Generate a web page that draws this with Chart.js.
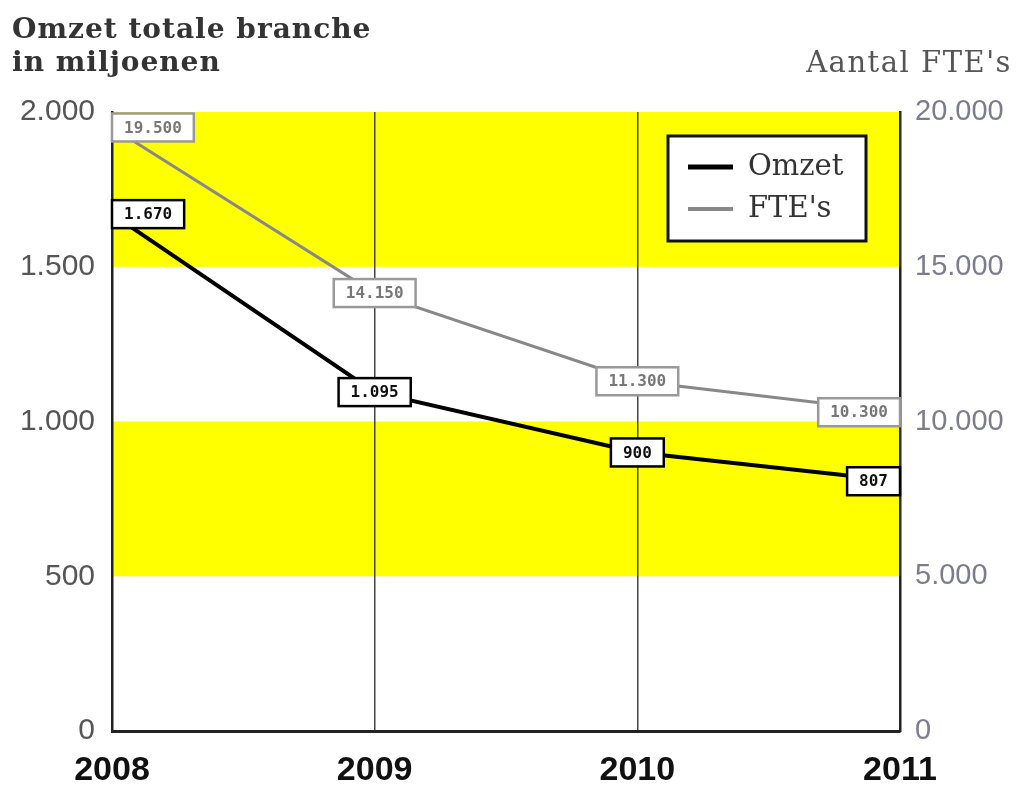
<html><head>
<script src="https://cdn.jsdelivr.net/npm/chart.js"></script>
<title>Omzet totale branche</title>
<style>
body { margin: 0; background: #fff; }
#wrap { width: 1018px; height: 785px; position: relative; }
</style>
</head>
<body>
<div id="wrap"><canvas id="chart" width="1018" height="785"></canvas></div>
<script>
const years = ['2008', '2009', '2010', '2011'];
const omzet = [1670, 1095, 900, 807];
const fte = [19500, 14150, 11300, 10300];
// yellow bands on the left axis (miljoenen)
const bands = [[1500, 2000], [500, 1000]];

function fmt(n) {
  return String(n).replace(/\B(?=(\d{3})+(?!\d))/g, '.');
}

const bandPlugin = {
  id: 'bands',
  beforeDraw(chart) {
    const {ctx, chartArea: a, scales: {y}} = chart;
    ctx.save();
    ctx.fillStyle = '#ffff00';
    bands.forEach(b => {
      const top = y.getPixelForValue(b[1]);
      const bot = y.getPixelForValue(b[0]);
      ctx.fillRect(a.left, top, a.right - a.left, bot - top);
    });
    ctx.restore();
  }
};

const labelPlugin = {
  id: 'boxLabels',
  afterDatasetsDraw(chart) {
    const ctx = chart.ctx;
    ctx.save();
    ctx.font = 'bold 16px "DejaVu Sans Mono"';
    ctx.textBaseline = 'middle';
    chart.data.datasets.forEach((ds, di) => {
      const meta = chart.getDatasetMeta(di);
      meta.data.forEach((pt, i) => {
        const txt = fmt(ds.data[i]);
        const w = ctx.measureText(txt).width + 24;
        const h = 28;
        let x = pt.x - w / 2;
        if (i === 0) x = pt.x;
        if (i === ds.data.length - 1) x = pt.x - w;
        const y = pt.y - h / 2;
        ctx.fillStyle = '#fff';
        ctx.fillRect(x, y, w, h);
        ctx.lineWidth = 2.5;
        ctx.strokeStyle = ds.boxColor;
        ctx.strokeRect(x, y, w, h);
        ctx.fillStyle = ds.textColor;
        ctx.textAlign = 'center';
        ctx.fillText(txt, x + w / 2, pt.y + 1);
      });
    });
    ctx.restore();
  }
};

const textPlugin = {
  id: 'texts',
  afterDraw(chart) {
    const ctx = chart.ctx;
    ctx.save();
    ctx.textBaseline = 'alphabetic';
    ctx.fillStyle = '#333';
    ctx.font = 'bold 28px "DejaVu Serif"';
    ctx.letterSpacing = '1px';
    ctx.textAlign = 'left';
    ctx.fillText('Omzet totale branche', 12, 38);
    ctx.fillText('in miljoenen', 12, 71);
    ctx.fillStyle = '#555';
    ctx.font = '29px "DejaVu Serif"';
    ctx.letterSpacing = '1.5px';
    ctx.textAlign = 'right';
    ctx.fillText("Aantal FTE's", 1012, 72);
    ctx.letterSpacing = '0px';

    // legend box
    const lx = 668, ly = 136, lw = 198, lh = 105;
    ctx.fillStyle = '#fff';
    ctx.fillRect(lx, ly, lw, lh);
    ctx.lineWidth = 3;
    ctx.strokeStyle = '#111';
    ctx.strokeRect(lx, ly, lw, lh);
    ctx.font = '29px "DejaVu Serif"';
    ctx.textAlign = 'left';
    ctx.textBaseline = 'middle';
    chart.data.datasets.forEach((ds, i) => {
      const yy = ly + 31 + i * 42;
      ctx.strokeStyle = ds.borderColor;
      ctx.lineWidth = ds.borderWidth + 1;
      ctx.beginPath();
      ctx.moveTo(lx + 20, yy);
      ctx.lineTo(lx + 65, yy);
      ctx.stroke();
      ctx.fillStyle = '#333';
      ctx.fillText(ds.label, lx + 80, yy);
    });
    ctx.restore();
  }
};

new Chart(document.getElementById('chart'), {
  type: 'line',
  data: {
    labels: years,
    datasets: [{
      label: 'Omzet',
      data: omzet,
      yAxisID: 'y',
      borderColor: '#000',
      borderWidth: 4,
      boxColor: '#000',
      textColor: '#111',
      pointRadius: 0,
      tension: 0
    }, {
      label: "FTE's",
      data: fte,
      yAxisID: 'y1',
      borderColor: '#888',
      borderWidth: 3,
      boxColor: '#999',
      textColor: '#777',
      pointRadius: 0,
      tension: 0
    }]
  },
  options: {
    responsive: false,
    animation: false,
    layout: { padding: { top: 112, left: 0, right: 0, bottom: 0 } },
    plugins: {
      legend: { display: false },
      tooltip: { enabled: false }
    },
    scales: {
      x: {
        offset: false,
        afterFit: s => { s.height = 54; },
        grid: { color: '#444', lineWidth: 1.5, drawTicks: false },
        border: { color: '#222', width: 3 },
        ticks: {
          color: '#111',
          padding: 19,
          maxRotation: 0,
          font: { family: 'Liberation Sans', size: 34, weight: 'bold' }
        }
      },
      y: {
        position: 'left',
        min: 0, max: 2000,
        afterFit: s => { s.width = 112; },
        grid: { display: false, drawTicks: false },
        border: { color: '#222', width: 2.5 },
        ticks: {
          stepSize: 500,
          padding: 17,
          color: '#555',
          font: { family: 'Liberation Sans', size: 30 },
          callback: v => fmt(v)
        }
      },
      y1: {
        position: 'right',
        min: 0, max: 20000,
        afterFit: s => { s.width = 118; },
        grid: { display: false, drawTicks: false },
        border: { color: '#222', width: 2.5 },
        ticks: {
          stepSize: 5000,
          padding: 15,
          color: '#7c7c8c',
          font: { family: 'Liberation Sans', size: 29 },
          callback: v => fmt(v)
        }
      }
    }
  },
  plugins: [bandPlugin, labelPlugin, textPlugin]
});
</script>
</body></html>
